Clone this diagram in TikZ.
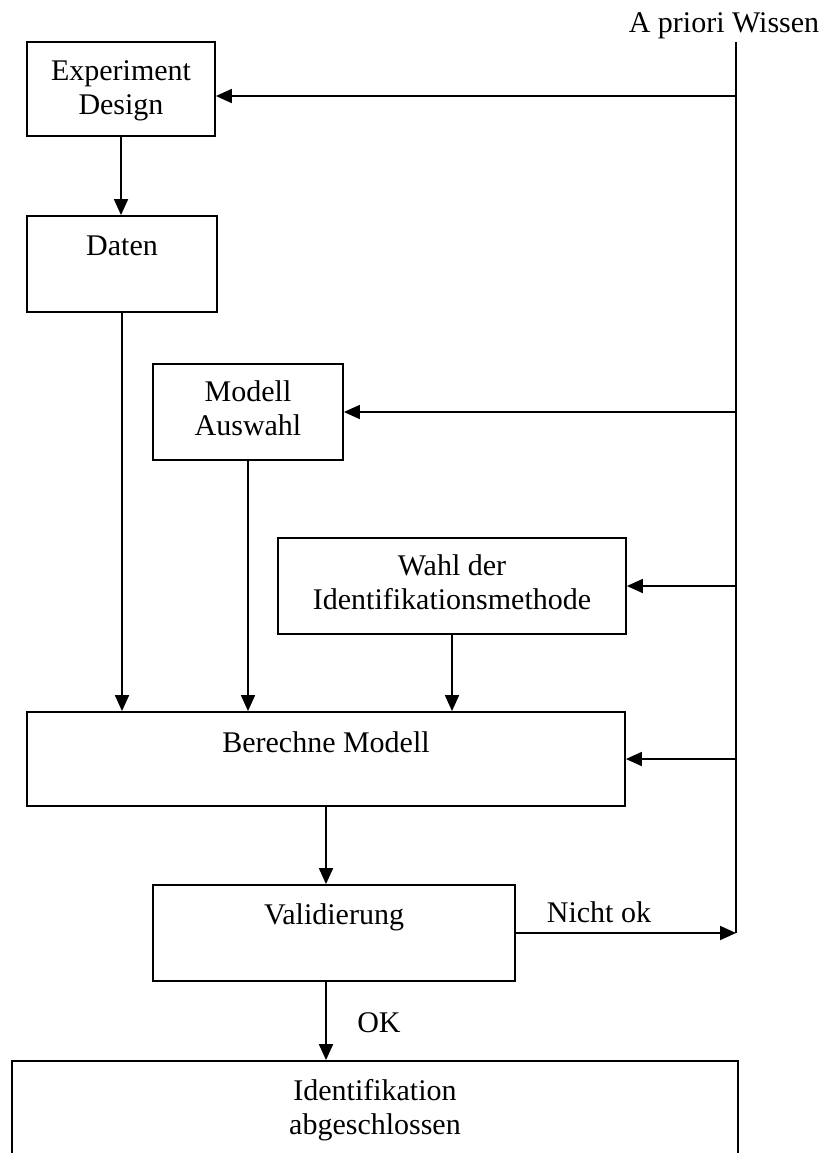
\documentclass[tikz,border=0pt]{standalone}
\usepackage{fontspec}
\setmainfont{Liberation Serif}
\usetikzlibrary{arrows.meta}
\begin{document}
\begin{tikzpicture}[x=0.5pt,y=-0.5pt,
  box/.style={draw, line width=0.9pt, inner sep=0pt},
  lbl/.style={inner sep=0pt, align=center, anchor=base, font=\fontsize{15pt}{17pt}\selectfont},
  wire/.style={line width=0.9pt},
  arr/.style={line width=0.9pt, -{Triangle[length=8pt,width=7pt]}}]
\useasboundingbox (0,0) rectangle (825,1153);
\clip (0,0) rectangle (825,1153);
% boxes
\node[box, minimum width=94pt,  minimum height=47pt]   (ed)   at (121,89) {};
\node[box, minimum width=95pt,  minimum height=48pt]   (dat)  at (122,264) {};
\node[box, minimum width=95pt,  minimum height=48pt]   (ma)   at (248,412) {};
\node[box, minimum width=174pt, minimum height=48pt]   (wahl) at (452,586) {};
\node[box, minimum width=299pt, minimum height=47pt]   (ber)  at (326,759) {};
\node[box, minimum width=181pt, minimum height=48pt]   (val)  at (334,933) {};
\node[box, minimum width=363pt, minimum height=70pt]   (idb)  at (375,1131) {};
% texts (base anchor = baseline of the last line)
\node[lbl] (apw) at (724,32) {A priori Wissen};
\node[lbl] (ted) at (121,114) {Experiment\\Design};
\node[lbl] (tdat) at (122,255) {Daten};
\node[lbl] (tma) at (248,435) {Modell\\Auswahl};
\node[lbl] (twahl) at (452,609) {Wahl der\\Identifikationsmethode};
\node[lbl] (tber) at (326,752) {Berechne Modell};
\node[lbl] (tval) at (334,924) {Validierung};
\node[lbl] (tidb) at (375,1134) {Identifikation\\abgeschlossen};
\node[lbl] (nok) at (599,922) {Nicht ok};
\node[lbl] (ok) at (379,1032) {OK};
% a priori line
\coordinate (vtop) at (736,42);
\coordinate (a1) at (736,96);
\draw[wire] (vtop) -- (vtop |- val.east);
\draw[arr] (a1) -- (a1 -| ed.east);
\draw[arr] (vtop |- ma.east) -- (ma.east);
\draw[arr] (vtop |- wahl.east) -- (wahl.east);
\draw[arr] (vtop |- ber.east) -- (ber.east);
\draw[arr] (val.east) -- (val.east -| vtop);
% downward flow
\draw[arr] (ed.south) -- (ed.south |- dat.north);
\draw[arr] (dat.south) -- (dat.south |- ber.north);
\draw[arr] (ma.south) -- (ma.south |- ber.north);
\draw[arr] (wahl.south) -- (wahl.south |- ber.north);
\draw[arr] (ber.south) -- (ber.south |- val.north);
\draw[arr] (ber.south |- val.south) -- (ber.south |- idb.north);
\end{tikzpicture}
\end{document}
